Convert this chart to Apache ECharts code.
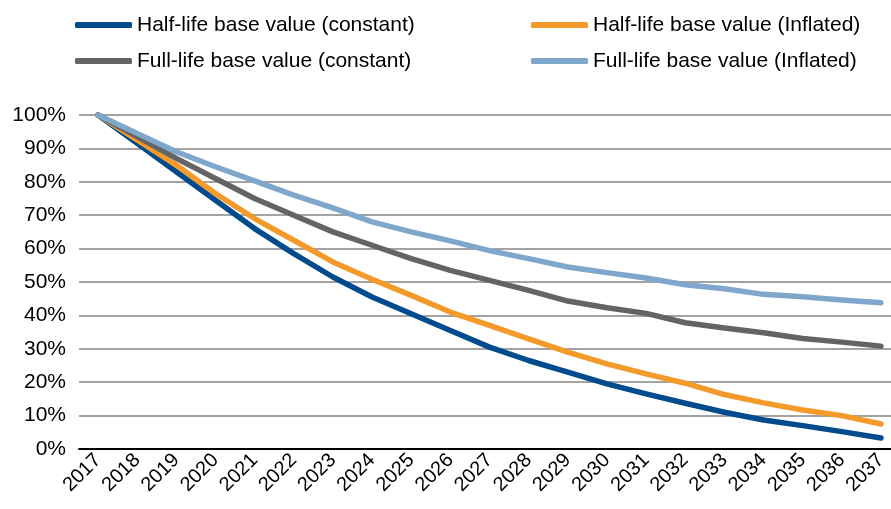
<!DOCTYPE html>
<html>
<head>
<meta charset="utf-8">
<script src="https://cdn.jsdelivr.net/npm/echarts@6/dist/echarts.min.js"></script>
<style>html,body{margin:0;padding:0;background:#fff}#c{width:891px;height:509px}</style>
</head>
<body>
<div id="c"></div>
<script>
const years = ['2017','2018','2019','2020','2021','2022','2023','2024','2025','2026','2027','2028','2029','2030','2031','2032','2033','2034','2035','2036','2037'];
const halfConst = [100, 91.5, 83, 74.5, 66, 58.5, 51.5, 45.5, 40.5, 35.5, 30.5, 26.5, 23, 19.5, 16.5, 13.7, 11, 8.7, 7, 5.2, 3.3];
const halfInfl  = [100, 92.5, 85, 76.5, 69, 62.5, 56, 50.8, 46, 41, 37, 33, 29, 25.5, 22.5, 19.7, 16.3, 13.8, 11.7, 10, 7.5];
const fullConst = [100, 93.5, 87, 81, 75, 70, 65, 61, 57, 53.5, 50.5, 47.5, 44.3, 42.3, 40.6, 37.8, 36.2, 34.8, 33.1, 32, 30.8];
const fullInfl  = [100, 94.5, 89, 84.5, 80.3, 76, 72.2, 68, 65, 62.3, 59.4, 57, 54.5, 52.8, 51.2, 49.2, 48, 46.3, 45.6, 44.6, 43.8];
const names = ['Half-life base value (constant)','Half-life base value (Inflated)','Full-life base value (constant)','Full-life base value (Inflated)'];
const colors = ['#004B8D','#F39A2B','#636466','#7FA7CB'];
const seriesData = [halfConst, halfInfl, fullConst, fullInfl];

const font = 'Liberation Sans, Arial, sans-serif';
const legendPos = [[75,13],[531,13],[75,49],[531,49]];
const chart = echarts.init(document.getElementById('c'));
chart.setOption({
  animation: false,
  backgroundColor: '#fff',
  legend: names.map((n,i)=>({
    data: [n], left: legendPos[i][0], top: legendPos[i][1],
    icon: 'roundRect', itemWidth: 57, itemHeight: 6,
    textStyle: {fontFamily: font, fontSize: 21, color: '#000', lineHeight: 24},
    padding: 0
  })),
  grid: [
    {left: 79, top: 115, right: 0, bottom: 60, containLabel: false},
    {left: 98, top: 115, width: 783, bottom: 60, containLabel: false}
  ],
  xAxis: [
    {
      gridIndex: 0, type: 'category', data: [''], boundaryGap: false,
      axisLine: {lineStyle: {color: '#000', width: 2}},
      axisTick: {show: false}, axisLabel: {show: false}
    },
    {
      gridIndex: 1, type: 'category', data: years, boundaryGap: false,
      axisLine: {show: false},
      axisTick: {show: false},
      axisLabel: {rotate: 45, fontFamily: font, fontSize: 20, color: '#000', margin: 8, interval: 0}
    }
  ],
  yAxis: [
    {
      gridIndex: 0, type: 'value', min: 0, max: 100, interval: 10,
      axisLine: {show: false}, axisTick: {show: false},
      axisLabel: {formatter: '{value}%', fontFamily: font, fontSize: 21, color: '#000', margin: 13},
      splitLine: {lineStyle: {color: '#A3A3A3', width: 2}}
    },
    {
      gridIndex: 1, type: 'value', min: 0, max: 100, interval: 10,
      axisLine: {show: false}, axisTick: {show: false}, axisLabel: {show: false},
      splitLine: {show: false}
    }
  ],
  series: names.map((n,i)=>({
    name: n, type: 'line', data: seriesData[i], showSymbol: false, symbol: 'none',
    xAxisIndex: 1, yAxisIndex: 1,
    color: colors[i],
    lineStyle: {width: 5.5, color: colors[i], cap: 'round', join: 'round'}
  }))
});
</script>
</body>
</html>
